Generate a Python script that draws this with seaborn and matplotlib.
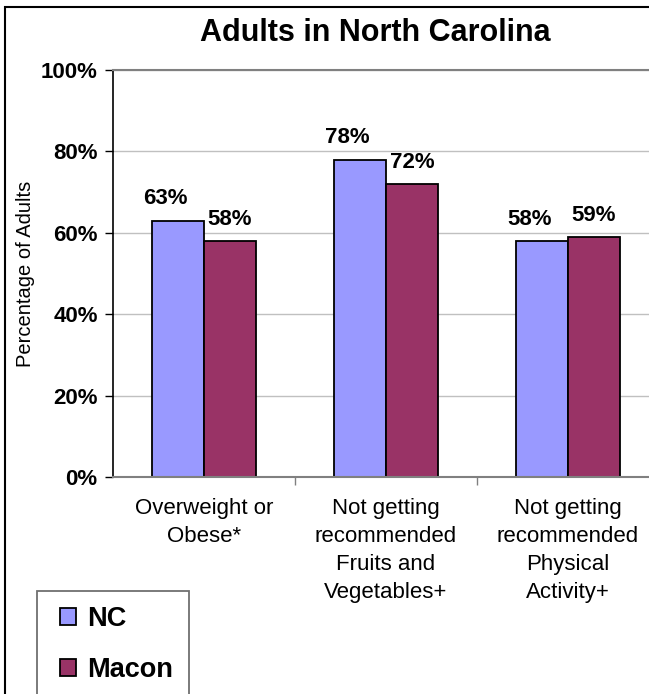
import matplotlib
matplotlib.use("Agg")
import matplotlib.pyplot as plt
import seaborn as sns
import pandas as pd
from matplotlib.patches import Rectangle
from matplotlib.ticker import FixedLocator

categories = ["Overweight or\nObese*",
              "Not getting\nrecommended\nFruits and\nVegetables+",
              "Not getting\nrecommended\nPhysical\nActivity+"]
groups = ["NC", "Macon"]
nc_values = [63, 78, 58]
macon_values = [58, 72, 59]
y_ticks = [0, 20, 40, 60, 80, 100]
y_tick_labels = ["0%", "20%", "40%", "60%", "80%", "100%"]
title_text = "Adults in North Carolina"
y_label = "Percentage of Adults"
colors = ["#9999FF", "#993366"]

sns.set_theme(style="white")
plt.rcParams['font.family'] = ['Liberation Sans', 'DejaVu Sans']
plt.rcParams['text.color'] = 'black'
plt.rcParams['axes.labelcolor'] = 'black'
plt.rcParams['xtick.color'] = 'black'
plt.rcParams['ytick.color'] = 'black'

df = pd.DataFrame({
    "category": categories * 2,
    "group": [groups[0]] * 3 + [groups[1]] * 3,
    "value": nc_values + macon_values,
})

W, H = 649, 694
fig = plt.figure(figsize=(W / 100, H / 100), dpi=100)
ax = fig.add_axes([113 / W, 1 - 477 / H, (659 - 113) / W, (477 - 70) / H])

sns.barplot(data=df, x="category", y="value", hue="group", hue_order=groups,
            order=categories, palette=colors, width=0.57, edgecolor="black",
            linewidth=1.3, ax=ax, errorbar=None, saturation=1)

ax.set_ylim(0, 100)
ax.set_xlim(-0.5, 2.5)
ax.set_yticks(y_ticks)
ax.set_yticklabels(y_tick_labels, fontsize=16, fontweight="bold")
ax.tick_params(axis="y", length=6, width=1, color="black", pad=5, left=True, direction="out")
ax.tick_params(axis="x", which="major", length=0, pad=15, labelsize=16)
ax.xaxis.set_minor_locator(FixedLocator([0.5, 1.5]))
ax.tick_params(axis="x", which="minor", length=6, width=1, color="#808080", bottom=True, direction="out")
for lbl in ax.get_xticklabels():
    lbl.set_linespacing(1.45)

ax.yaxis.grid(True, color="#C0C0C0", linewidth=1)
ax.set_axisbelow(True)
ax.set_xlabel("")
ax.set_ylabel(y_label, fontsize=14.5)
ax.yaxis.set_label_coords(-0.142, 0.5)

ax.spines["left"].set_color("black")
ax.spines["left"].set_linewidth(1.2)
ax.spines["bottom"].set_color("#808080")
ax.spines["bottom"].set_linewidth(1.5)
ax.spines["top"].set_color("#808080")
ax.spines["top"].set_linewidth(1.5)
ax.spines["right"].set_visible(False)

# value labels
offsets = [-9, 0]
for container, dx in zip(ax.containers, offsets):
    for bar in container:
        h = bar.get_height()
        ax.annotate(f"{h:g}%", xy=(bar.get_x() + bar.get_width() / 2, h),
                    xytext=(dx, 8), textcoords="offset points",
                    ha="center", va="bottom", fontsize=16, fontweight="bold")

# legend
handles, labels = ax.get_legend_handles_labels()
ax.get_legend().remove()
fig.legend(handles, labels, loc="upper left", bbox_to_anchor=(60 / W, 1 - 606 / H),
           frameon=False, borderpad=0, borderaxespad=0,
           prop={"size": 19.5, "weight": "bold"},
           handlelength=0.6, handleheight=0.6, handletextpad=0.4, labelspacing=0.92)
fig.patches.append(Rectangle((37 / W, -0.1), (189 - 37) / W, (H - 591) / H + 0.1,
                             transform=fig.transFigure, fill=False, edgecolor="#707070",
                             linewidth=1.3, figure=fig))

# outer chart border
fig.patches.append(Rectangle((5 / W, -0.1), 1.2, 1 - 7 / H + 0.1,
                             transform=fig.transFigure, fill=False, edgecolor="black",
                             linewidth=1.5, figure=fig))

fig.text(375 / W, 1 - 41 / H, title_text, ha="center", va="baseline",
         fontsize=22, fontweight="bold")

fig.savefig("out.png", dpi=100)
